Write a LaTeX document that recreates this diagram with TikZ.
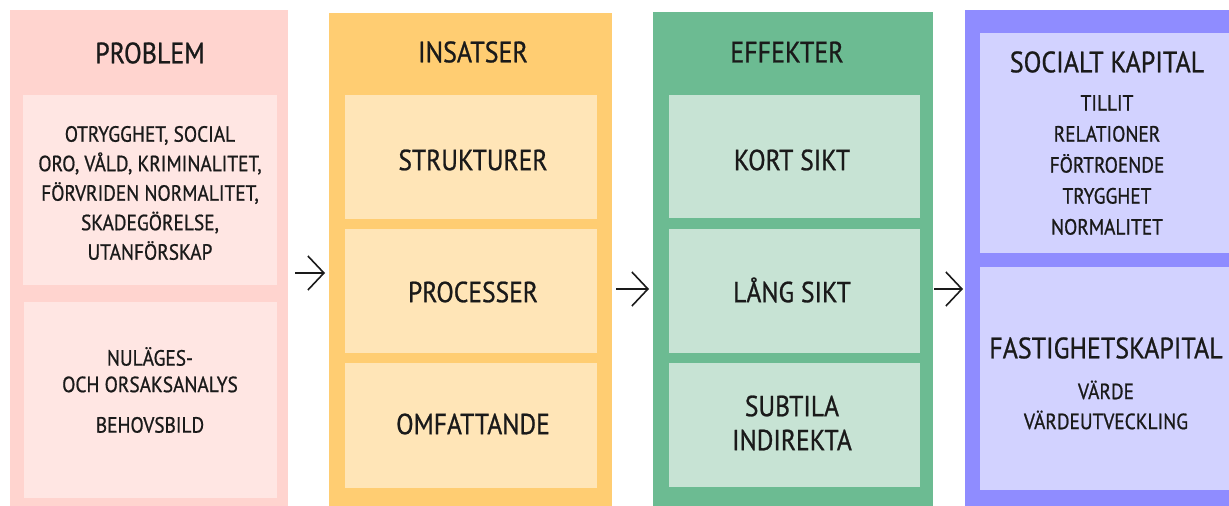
\documentclass[tikz,border=0pt]{standalone}
\usepackage{fontspec}
\setmainfont{PT Sans}[FakeStretch=0.88,FakeBold=0.8]
\usetikzlibrary{arrows.meta}
\definecolor{pinkO}{HTML}{FFD4CF}
\definecolor{pinkI}{HTML}{FFE6E3}
\definecolor{orO}{HTML}{FFCD72}
\definecolor{orI}{HTML}{FFE5B7}
\definecolor{grO}{HTML}{6CBB92}
\definecolor{grI}{HTML}{C7E3D4}
\definecolor{puO}{HTML}{8F8CFF}
\definecolor{puI}{HTML}{D2D2FF}
\definecolor{ink}{HTML}{1A1A1A}
\begin{document}
\begin{tikzpicture}[x=1pt,y=-1pt,
  col/.style={inner sep=0pt,outer sep=0pt,anchor=north west,draw=none,minimum height=500pt},
  box/.style={inner sep=0pt,outer sep=0pt,anchor=north west,draw=none},
  ttl/.style={font=\fontsize{29.5}{32}\selectfont,inner sep=0pt,text=ink},
  big/.style={font=\fontsize{29}{34}\selectfont,align=center,inner sep=0pt,text=ink},
  small/.style={font=\fontsize{22}{29.5}\selectfont,align=center,inner sep=0pt,text=ink},
  arr/.style={-{Straight Barb[length=16pt,width=34pt]},line width=1.6pt,draw=ink}]
\useasboundingbox (0,0) rectangle (1229,506);
\fill[white] (0,0) rectangle (1229,506);
\begin{scope}
\clip (0,0) rectangle (1229,506);
% columns
\node[col,fill=pinkO,minimum width=278pt] (c1) at (10,10) {};
\node[col,fill=orO,minimum width=283pt] (c2) at (329,13) {};
\node[col,fill=grO,minimum width=280pt] (c3) at (653,12) {};
\node[col,fill=puO,minimum width=280pt] (c4) at (965,10) {};
% inner boxes
\node[box,fill=pinkI,minimum width=254pt,minimum height=190pt] (p1) at (23,95) {};
\node[box,fill=pinkI,minimum width=253pt,minimum height=196pt] (p2) at (24,302) {};
\node[box,fill=orI,minimum width=252pt,minimum height=124pt] (o1) at (345,95) {};
\node[box,fill=orI,minimum width=252pt,minimum height=124pt] (o2) at (345,229) {};
\node[box,fill=orI,minimum width=252pt,minimum height=125pt] (o3) at (345,363) {};
\node[box,fill=grI,minimum width=251pt,minimum height=123pt] (g1) at (669,95) {};
\node[box,fill=grI,minimum width=251pt,minimum height=124pt] (g2) at (669,229) {};
\node[box,fill=grI,minimum width=251pt,minimum height=124pt] (g3) at (669,363) {};
\node[box,fill=puI,minimum width=260pt,minimum height=220pt] (u1) at (980,33) {};
\node[box,fill=puI,minimum width=260pt,minimum height=223pt] (u2) at (980,267) {};
\end{scope}
% titles
\node[ttl] (t1) at (150,53) {PROBLEM};
\node[ttl] (t2) at (473,52) {INSATSER};
\node[ttl] (t3) at (787,52) {EFFEKTER};
% column 1 text
\node[small] (p1t) at (150,193) {OTRYGGHET, SOCIAL\\ORO, VÅLD, KRIMINALITET,\\FÖRVRIDEN NORMALITET,\\SKADEGÖRELSE,\\UTANFÖRSKAP};
\node[small,font=\fontsize{22}{26.5}\selectfont] (p2t) at (150,390) {NULÄGES-\\OCH ORSAKSANALYS\\[14pt]BEHOVSBILD};
% column 2 text
\node[big] (o1t) at (473,160) {STRUKTURER};
\node[big] (o2t) at (473,292) {PROCESSER};
\node[big] (o3t) at (473,424) {OMFATTANDE};
% column 3 text
\node[big] (g1t) at (792,160) {KORT SIKT};
\node[big] (g2t) at (792,290) {LÅNG SIKT};
\node[big] (g3t) at (792,423) {SUBTILA\\INDIREKTA};
% column 4 text
\node[ttl] (u1h) at (1107,62) {SOCIALT KAPITAL};
\node[small,font=\fontsize{22}{31}\selectfont] (u1t) at (1107,165) {TILLIT\\RELATIONER\\FÖRTROENDE\\TRYGGHET\\NORMALITET};
\node[ttl] (u2h) at (1106,348) {FASTIGHETSKAPITAL};
\node[small,font=\fontsize{22}{30}\selectfont] (u2t) at (1106,405) {VÄRDE\\VÄRDEUTVECKLING};
% arrows
\draw[arr,shorten <=7pt,shorten >=4pt] ([yshift=-13pt]c1.east) -- ([yshift=-10pt]c2.west);
\draw[arr,shorten <=4pt,shorten >=4pt] ([yshift=-26pt]c2.east) -- ([yshift=-27pt]c3.west);
\draw[arr,shorten <=1pt,shorten >=2pt] ([yshift=-27pt]c3.east) -- ([yshift=-29pt]c4.west);
\end{tikzpicture}
\end{document}
